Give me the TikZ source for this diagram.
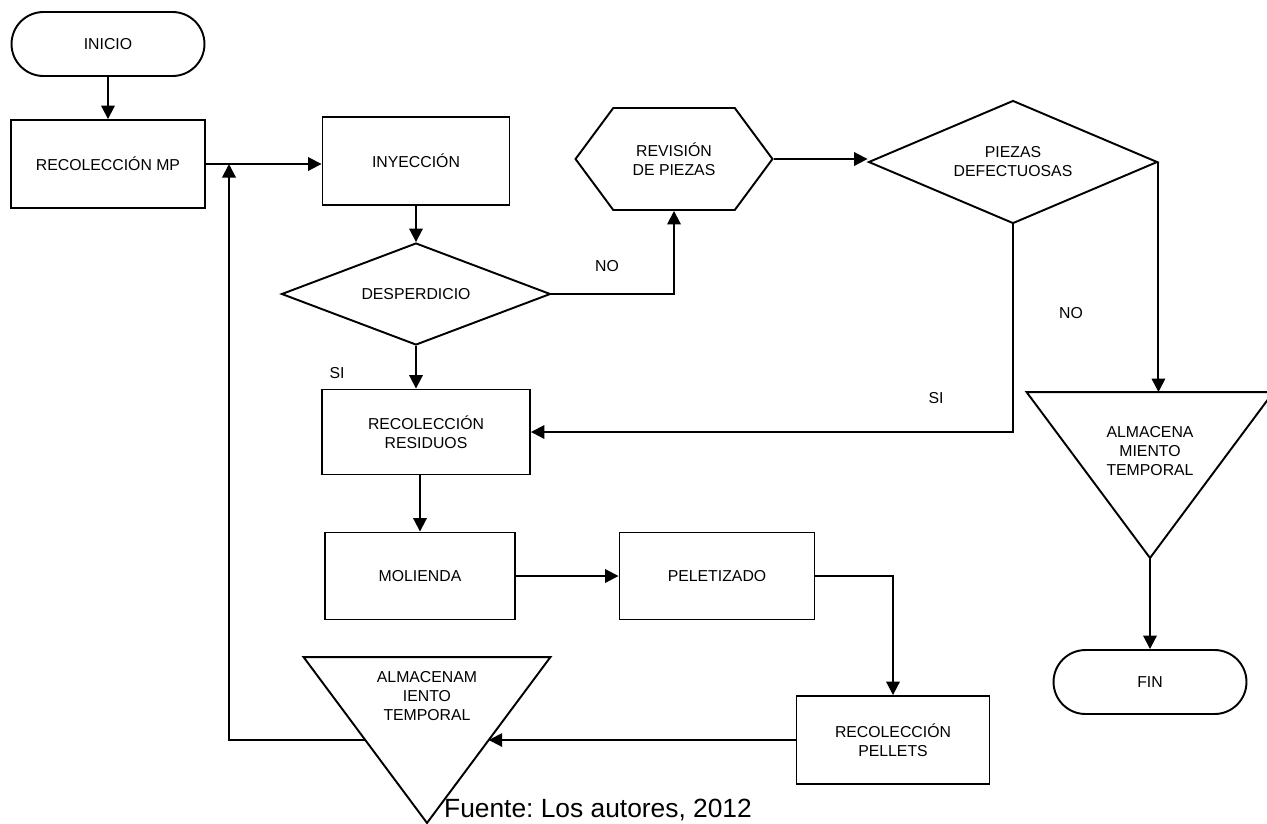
\documentclass[tikz,border=0pt]{standalone}
\usepackage{fontspec}
\setmainfont{Liberation Sans}
\frenchspacing
\usetikzlibrary{shapes.geometric,shapes.symbols,arrows.meta,calc}
\tikzstyle{terminal}=[rectangle,draw,rounded corners=0.64cm,minimum width=3.86cm,minimum height=1.28cm]
\tikzstyle{process}=[rectangle,draw,minimum width=3.9cm,minimum height=1.76cm,align=center]
\tikzstyle{decision}=[diamond,draw,inner sep=0pt,align=center]
\tikzstyle{review}=[signal,signal to=west and east,signal pointer angle=107,draw,minimum width=3.94cm,minimum height=2.04cm,inner sep=0pt,align=center]
\tikzstyle{storage}=[rectangle,minimum width=4.9cm,minimum height=3.28cm,inner sep=0pt]
\tikzstyle{flow} = [draw,-{Triangle[length=0.27cm,width=0.27cm]}]

\begin{document}
\begin{tikzpicture}[x=0.02cm,y=-0.02cm,line width=1.1pt,font=\fontsize{9}{10.8}\selectfont]
        \useasboundingbox (0,0) rectangle (1267,823);
        \node[terminal] (ini) at (108,44) {INICIO};
        \node[process,minimum width=3.88cm] (rmp) at (108,164) {RECOLECCIÓN MP};
        \node[process,minimum width=3.74cm] (iny) at (416,161) {INYECCIÓN};
        \node[decision,aspect=2.64,minimum width=5.38cm,minimum height=2.04cm] (desp) at (416,294) {DESPERDICIO};
        \node[review] (rev) at (674,159) {REVISIÓN\\DE PIEZAS};
        \node[decision,aspect=2.35,minimum width=5.78cm,minimum height=2.46cm] (pd) at (1013,162) {PIEZAS\\DEFECTUOSAS};
        \node[process,minimum width=4.16cm,minimum height=1.7cm] (rr) at (426,432) {RECOLECCIÓN\\RESIDUOS};
        \node[process,minimum width=3.8cm,minimum height=1.74cm] (mol) at (420,576) {MOLIENDA};
        \node[process,minimum height=1.74cm] (pel) at (717,576) {PELETIZADO};
        \node[process,minimum width=3.86cm] (rp) at (893,740) {RECOLECCIÓN\\PELLETS};
        \node[terminal] (fin) at (1150,682) {FIN};
        % storage triangles: frame node, border, then the text
        \node[storage] (alm) at (427,740) {};
        \draw (alm.north west) -- (alm.north east) -- (alm.south) -- cycle;
        \node[align=center] (alm text) at (427,696) {ALMACENAM\\IENTO\\TEMPORAL};
        \node[storage] (almf) at (1150,475) {};
        \draw (almf.north west) -- (almf.north east) -- (almf.south) -- cycle;
        \node[align=center] (almf text) at (1150,451) {ALMACENA\\MIENTO\\TEMPORAL};
        \coordinate (almin) at ($(alm.north east)!.5!(alm.south)$);
        \coordinate (almout) at ($(alm.north west)!.5!(alm.south)$);
        \coordinate (merge) at (229,164);
        % connectors
        \path[flow] (ini) -- (rmp);
        \path[flow] (rmp.east) -- (rmp.east -| iny.west);
        \path[flow] (almout) -| (merge);
        \path[flow] (iny) -- (desp);
        \path[flow] (desp.south) -- (desp.south |- rr.north);
        \path[flow] (desp.east) -| (rev.south);
        \path[flow] (rev.east) -- (rev.east -| pd.west);
        \path[flow] (pd.east) -- (pd.east |- almf.north);
        \path[flow] (pd.south) |- (rr.east);
        \path[flow] (rr.south -| mol.north) -- (mol.north);
        \path[flow] (mol) -- (pel);
        \path[flow] (pel.east) -| (rp.north);
        \path[flow] (rp.west) -- (almin);
        \path[flow] (almf.south) -- (fin);
        % answers
        \node (no1) at (607,266) {NO};
        \node (si1) at (337,373) {SI};
        \node (no2) at (1071,313) {NO};
        \node (si2) at (936,398) {SI};
        \node[font=\fontsize{15}{18}\selectfont,anchor=base] (src) at (598,817) {Fuente: Los autores, 2012};
    \end{tikzpicture}
\end{document}
